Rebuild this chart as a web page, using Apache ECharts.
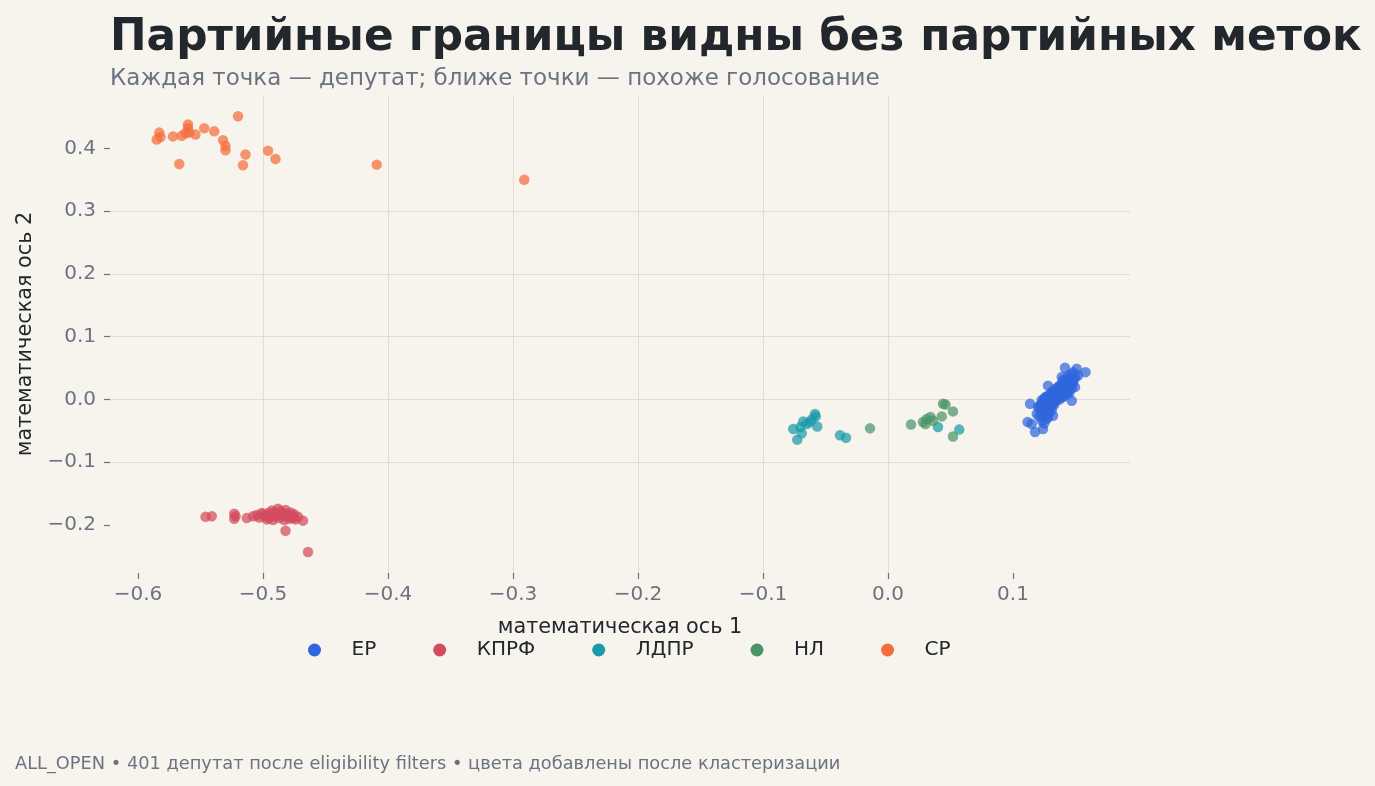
<!DOCTYPE html>
<html>
<head>
<meta charset="utf-8">
<script src="https://cdn.jsdelivr.net/npm/echarts@6/dist/echarts.min.js"></script>
<style>
  html, body { margin: 0; padding: 0; background: #f7f4ee; }
  #chart { width: 1375px; height: 786px; }
</style>
</head>
<body>
<div id="chart"></div>
<script>
// партии и цвета
var parties = ['ЕР', 'КПРФ', 'ЛДПР', 'НЛ', 'СР']
var colors = ['#2f66dc', '#d24b5e', '#1b9aa9', '#4b9468', '#f46d3b']

// координаты депутатов [ось 1, ось 2]
var erPoints = [
  [0.1416, 0.0505], [0.151, 0.049], [0.158, 0.0435], [0.148, 0.0435], [0.152, 0.038],
  [0.147, -0.002], [0.1136, -0.007], [0.1117, -0.036], [0.1176, -0.052], [0.124, -0.047],
  [0.132, -0.026], [0.115, -0.039], [0.119, -0.023], [0.128, 0.022], [0.139, 0.0356],
  [0.1496, 0.0196], [0.120, -0.012], [0.123, -0.0335], [0.144, 0.0117],
  [0.121, -0.012], [0.122, -0.008], [0.123, -0.015], [0.124, -0.004], [0.124, -0.010],
  [0.125, -0.018], [0.125, 0.001], [0.126, -0.006], [0.126, -0.013], [0.127, 0.003],
  [0.127, -0.002], [0.128, -0.009], [0.128, 0.006], [0.129, -0.004], [0.129, 0.001],
  [0.130, 0.009], [0.130, -0.007], [0.130, 0.004], [0.131, 0.012], [0.131, -0.001],
  [0.132, 0.007], [0.132, 0.002], [0.133, 0.014], [0.133, -0.004], [0.133, 0.009],
  [0.134, 0.004], [0.134, 0.017], [0.135, 0.011], [0.135, 0.000], [0.135, 0.006],
  [0.136, 0.019], [0.136, 0.013], [0.136, 0.003], [0.137, 0.008], [0.137, 0.022],
  [0.138, 0.015], [0.138, 0.005], [0.138, 0.011], [0.139, 0.025], [0.139, 0.018],
  [0.140, 0.009], [0.140, 0.021], [0.140, 0.014], [0.141, 0.028], [0.141, 0.005],
  [0.142, 0.017], [0.142, 0.024], [0.143, 0.012], [0.143, 0.031], [0.144, 0.020],
  [0.144, 0.027], [0.145, 0.015], [0.145, 0.033], [0.146, 0.023], [0.147, 0.029],
  [0.147, 0.018], [0.148, 0.026], [0.149, 0.032], [0.127, -0.020], [0.129, -0.014],
  [0.131, -0.010], [0.133, -0.008], [0.126, -0.025], [0.128, -0.028], [0.122, -0.020],
  [0.124, -0.028], [0.137, 0.000], [0.139, 0.003], [0.142, 0.008], [0.145, 0.010],
  [0.129, -0.021], [0.131, -0.017], [0.127, -0.031], [0.125, -0.038], [0.121, -0.027],
  [0.134, -0.002], [0.136, 0.007], [0.134, 0.010], [0.132, -0.006], [0.138, 0.020],
  [0.141, 0.022], [0.143, 0.026], [0.146, 0.030], [0.140, 0.031], [0.144, 0.037],
  [0.150, 0.036], [0.146, 0.040], [0.130, -0.002], [0.126, 0.004], [0.123, -0.001]
]
var kprfPoints = [
  [-0.546, -0.187], [-0.541, -0.186], [-0.523, -0.182], [-0.523, -0.190], [-0.522, -0.186],
  [-0.513, -0.189], [-0.508, -0.186], [-0.505, -0.184], [-0.503, -0.188], [-0.500, -0.183],
  [-0.498, -0.186], [-0.496, -0.181], [-0.495, -0.189], [-0.494, -0.184], [-0.492, -0.192],
  [-0.491, -0.180], [-0.490, -0.186], [-0.489, -0.183], [-0.488, -0.174], [-0.487, -0.189],
  [-0.486, -0.178], [-0.485, -0.185], [-0.484, -0.181], [-0.483, -0.192], [-0.482, -0.176],
  [-0.481, -0.187], [-0.480, -0.183], [-0.479, -0.190], [-0.478, -0.180], [-0.477, -0.186],
  [-0.476, -0.189], [-0.475, -0.183], [-0.474, -0.191], [-0.472, -0.187], [-0.468, -0.193],
  [-0.482, -0.209], [-0.464, -0.243], [-0.497, -0.191], [-0.501, -0.181], [-0.493, -0.177]
]
var ldprPoints = [
  [-0.0758, -0.047], [-0.0726, -0.064], [-0.069, -0.054], [-0.0678, -0.035], [-0.065, -0.039],
  [-0.0624, -0.036], [-0.0584, -0.023], [-0.0578, -0.027], [-0.0566, -0.043], [-0.061, -0.032],
  [-0.070, -0.044], [-0.0384, -0.057], [-0.0336, -0.061], [0.040, -0.044], [0.057, -0.048]
]
var nlPoints = [
  [-0.0144, -0.046], [0.0184, -0.040], [0.028, -0.036], [0.031, -0.031], [0.034, -0.028],
  [0.030, -0.039], [0.036, -0.034], [0.043, -0.027], [0.044, -0.007], [0.046, -0.008],
  [0.052, -0.019], [0.052, -0.059]
]
var srPoints = [
  [-0.583, 0.425], [-0.585, 0.414], [-0.582, 0.418], [-0.572, 0.419], [-0.567, 0.375],
  [-0.565, 0.420], [-0.560, 0.438], [-0.560, 0.432], [-0.562, 0.424], [-0.559, 0.425],
  [-0.554, 0.422], [-0.547, 0.432], [-0.539, 0.427], [-0.532, 0.413], [-0.530, 0.404],
  [-0.530, 0.397], [-0.520, 0.451], [-0.514, 0.390], [-0.516, 0.373], [-0.496, 0.396],
  [-0.490, 0.383], [-0.409, 0.374], [-0.291, 0.350]
]
var allPoints = [erPoints, kprfPoints, ldprPoints, nlPoints, srPoints]

// подписи осей
var xTicks = [-0.6, -0.5, -0.4, -0.3, -0.2, -0.1, 0.0, 0.1]
var yTicks = [-0.2, -0.1, 0.0, 0.1, 0.2, 0.3, 0.4]

var chart = echarts.init(document.getElementById('chart'))

var font = 'DejaVu Sans'
var gray = '#6b7280'
var dark = '#22272e'

function fmt(v) {
  return Number(v).toFixed(1).replace('-', '\u2212')
}

var series = parties.map(function (name, i) {
  return {
    name: name,
    type: 'scatter',
    data: allPoints[i],
    symbolSize: 10.5,
    itemStyle: { color: colors[i], opacity: 0.72 },
    emphasis: { disabled: true }
  }
})

var option = {
  backgroundColor: '#f7f4ee',
  animation: false,
  textStyle: { fontFamily: font },
  title: [{
    text: 'Партийные границы видны без партийных меток',
    left: 105,
    top: 12,
    textStyle: { fontFamily: font, fontSize: 43.75, fontWeight: 'bold', color: dark }
  }, {
    text: 'Каждая точка — депутат; ближе точки — похоже голосование',
    left: 105,
    top: 63,
    textStyle: { fontFamily: font, fontSize: 23, fontWeight: 'normal', color: gray }
  }, {
    text: 'ALL_OPEN • 401 депутат после eligibility filters • цвета добавлены после кластеризации',
    left: 10,
    top: 750,
    textStyle: { fontFamily: font, fontSize: 17.8, fontWeight: 'normal', color: gray }
  }],
  legend: {
    data: parties,
    left: 303,
    top: 635,
    icon: 'circle',
    itemWidth: 64,
    itemHeight: 13,
    itemGap: 57,
    itemStyle: { opacity: 1 },
    textStyle: { fontFamily: font, fontSize: 20, color: dark }
  },
  grid: { left: 110, right: 245, top: 95, bottom: 213 },
  xAxis: {
    type: 'value',
    min: -0.6224,
    max: 0.1936,
    splitNumber: 8,
    name: 'математическая ось 1',
    nameLocation: 'middle',
    nameGap: 44,
    nameTextStyle: { fontFamily: font, fontSize: 20.8, color: dark },
    axisLine: { show: false, onZero: false },
    axisTick: { show: true, length: 6, customValues: xTicks, lineStyle: { color: gray, width: 1.2 } },
    axisLabel: { customValues: xTicks, margin: 12, fontFamily: font, fontSize: 20, color: gray, formatter: fmt },
    splitLine: { show: true, showMinLine: false, showMaxLine: false, lineStyle: { color: '#e2ddd4', width: 1 } }
  },
  yAxis: {
    type: 'value',
    min: -0.2764,
    max: 0.4849,
    splitNumber: 8,
    name: 'математическая ось 2',
    nameLocation: 'middle',
    nameGap: 73,
    nameRotate: 90,
    nameTextStyle: { fontFamily: font, fontSize: 20.8, color: dark },
    axisLine: { show: false, onZero: false },
    axisTick: { show: true, length: 6, customValues: yTicks, lineStyle: { color: gray, width: 1.2 } },
    axisLabel: { customValues: yTicks, margin: 14, fontFamily: font, fontSize: 20, color: gray, formatter: fmt },
    splitLine: { show: true, showMinLine: false, showMaxLine: false, lineStyle: { color: '#e2ddd4', width: 1 } }
  },
  series: series
}

chart.setOption(option)
</script>
</body>
</html>
